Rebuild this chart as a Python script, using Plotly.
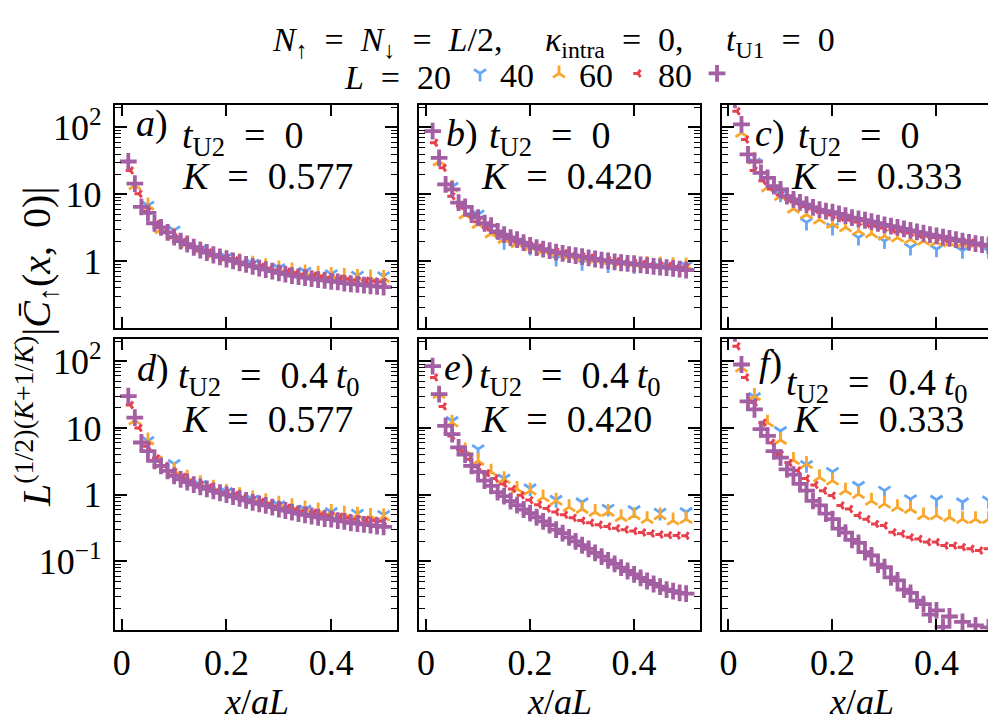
import plotly.graph_objects as go
from plotly.subplots import make_subplots

# ---------------- data ----------------
x20 = [0.05, 0.10, 0.15, 0.20, 0.25, 0.30, 0.35, 0.40, 0.45, 0.50]
x40 = [0.025, 0.05, 0.075, 0.10, 0.125, 0.15, 0.175, 0.20, 0.225, 0.25,
       0.275, 0.30, 0.325, 0.35, 0.375, 0.40, 0.425, 0.45, 0.475, 0.50]
x60 = [0.0167, 0.0333, 0.05, 0.0667, 0.0833, 0.10, 0.1167, 0.1333, 0.15, 0.1667,
       0.1833, 0.20, 0.2167, 0.2333, 0.25, 0.2667, 0.2833, 0.30, 0.3167, 0.3333,
       0.35, 0.3667, 0.3833, 0.40, 0.4167, 0.4333, 0.45, 0.4667, 0.4833, 0.50]
x80 = [0.0125, 0.025, 0.0375, 0.05, 0.0625, 0.075, 0.0875, 0.10, 0.1125, 0.125,
       0.1375, 0.15, 0.1625, 0.175, 0.1875, 0.20, 0.2125, 0.225, 0.2375, 0.25,
       0.2625, 0.275, 0.2875, 0.30, 0.3125, 0.325, 0.3375, 0.35, 0.3625, 0.375,
       0.3875, 0.40, 0.4125, 0.425, 0.4375, 0.45, 0.4625, 0.475, 0.4875, 0.50]

# panel a) t_U2 = 0, K = 0.577
a_L20 = [6.8, 2.9, 1.5, 1.15, 0.92, 0.79, 0.70, 0.64, 0.61, 0.60]
a_L40 = [13.6, 6.8, 3.0, 2.4, 1.85, 1.5, 1.28, 1.13, 1.0, 0.92,
         0.84, 0.78, 0.73, 0.68, 0.65, 0.62, 0.60, 0.58, 0.57, 0.56]
a_L60 = [22.8, 10.2, 5.6, 3.6, 2.8, 2.3, 1.95, 1.7, 1.5, 1.36,
         1.23, 1.12, 1.03, 0.96, 0.89, 0.83, 0.78, 0.74, 0.70, 0.67,
         0.64, 0.61, 0.59, 0.57, 0.55, 0.54, 0.52, 0.51, 0.50, 0.49]
a_L80 = [31, 14.5, 6.5, 5.3, 3.7, 3.2, 2.7, 2.3, 2.0, 1.8,
         1.62, 1.47, 1.35, 1.24, 1.16, 1.08, 1.01, 0.95, 0.90, 0.84,
         0.79, 0.75, 0.71, 0.67, 0.64, 0.61, 0.59, 0.57, 0.55, 0.53,
         0.52, 0.50, 0.49, 0.47, 0.46, 0.45, 0.44, 0.43, 0.42, 0.41]

# panel b) t_U2 = 0, K = 0.420
b_L20 = [13, 5.0, 1.95, 1.6, 1.1, 0.95, 0.88, 0.85, 0.82, 0.85]
b_L40 = [31, 12.6, 5.0, 3.6, 2.6, 2.15, 1.85, 1.65, 1.45, 1.33,
         1.22, 1.14, 1.07, 1.02, 0.97, 0.94, 0.91, 0.89, 0.87, 0.86]
b_L60 = [59, 25, 9.4, 6.7, 4.9, 3.9, 3.2, 2.7, 2.35, 2.1,
         1.9, 1.73, 1.6, 1.49, 1.40, 1.32, 1.25, 1.19, 1.13, 1.08,
         1.04, 1.0, 0.97, 0.94, 0.91, 0.89, 0.87, 0.85, 0.83, 0.82]
b_L80 = [88, 35, 14.1, 11.9, 7.5, 6.5, 5.0, 4.5, 3.7, 3.4,
         2.8, 2.5, 2.26, 2.1, 1.9, 1.72, 1.6, 1.52, 1.44, 1.37,
         1.31, 1.26, 1.21, 1.17, 1.12, 1.08, 1.04, 1.01, 0.98, 0.95,
         0.93, 0.91, 0.88, 0.86, 0.84, 0.82, 0.80, 0.78, 0.76, 0.74]

# panel c) t_U2 = 0, K = 0.333
c_L20 = [30, 10, 3.8, 3.2, 2.26, 2.0, 1.6, 1.51, 1.43, 1.43]
c_L40 = [83, 33, 12.6, 9.4, 6.1, 5.0, 4.2, 3.6, 3.2, 2.85,
         2.6, 2.4, 2.25, 2.12, 2.02, 1.95, 1.9, 1.86, 1.83, 1.82]
c_L60 = [175, 66, 22.8, 16, 12, 9.8, 8.4, 7.3, 6.5, 5.9,
         5.4, 4.9, 4.5, 4.15, 3.85, 3.6, 3.35, 3.15, 2.95, 2.8,
         2.65, 2.5, 2.38, 2.27, 2.15, 2.05, 1.97, 1.9, 1.83, 1.78]
c_L80 = [260, 111, 39.5, 31, 21, 17.7, 13.3, 11.9, 9.4, 8.4,
         7.6, 7.0, 6.4, 5.9, 5.6, 5.4, 5.1, 4.8, 4.5, 4.3,
         4.1, 3.9, 3.7, 3.5, 3.35, 3.2, 3.05, 2.9, 2.75, 2.62,
         2.5, 2.4, 2.3, 2.2, 2.1, 2.0, 1.92, 1.84, 1.77, 1.7]

# panel d) t_U2 = 0.4 t0, K = 0.577
d_L20 = [6.4, 2.9, 1.4, 1.1, 0.85, 0.70, 0.60, 0.55, 0.52, 0.50]
d_L40 = [13, 6.5, 2.9, 2.3, 1.8, 1.48, 1.27, 1.1, 0.98, 0.88,
         0.80, 0.73, 0.67, 0.62, 0.58, 0.55, 0.52, 0.50, 0.48, 0.47]
d_L60 = [22, 10, 5.3, 3.5, 2.7, 2.2, 1.85, 1.6, 1.42, 1.28,
         1.16, 1.06, 0.98, 0.91, 0.84, 0.78, 0.73, 0.68, 0.64, 0.60,
         0.57, 0.54, 0.51, 0.49, 0.47, 0.45, 0.43, 0.42, 0.41, 0.40]
d_L80 = [30, 14.3, 6.05, 4.5, 3.2, 2.7, 2.28, 1.92, 1.7, 1.55,
         1.42, 1.31, 1.22, 1.14, 1.07, 1.0, 0.94, 0.88, 0.82, 0.77,
         0.73, 0.69, 0.65, 0.61, 0.58, 0.55, 0.52, 0.50, 0.48, 0.46,
         0.44, 0.43, 0.41, 0.40, 0.38, 0.37, 0.36, 0.35, 0.34, 0.33]

# panel e) t_U2 = 0.4 t0, K = 0.420
e_L20 = [12.7, 4.8, 1.75, 1.25, 0.84, 0.77, 0.62, 0.59, 0.54, 0.55]
e_L40 = [32, 12, 4.6, 3.2, 2.2, 1.71, 1.22, 1.15, 0.91, 0.81,
         0.65, 0.61, 0.55, 0.55, 0.46, 0.49, 0.43, 0.49, 0.41, 0.43]
e_L60 = [57, 21, 7.6, 4.8, 3.4, 2.6, 2.1, 1.75, 1.45, 1.22,
         0.98, 0.83, 0.71, 0.62, 0.55, 0.50, 0.45, 0.41, 0.38, 0.355,
         0.335, 0.315, 0.30, 0.285, 0.272, 0.262, 0.254, 0.248, 0.245, 0.243]
e_L80 = [84, 32, 10.7, 8.1, 5.1, 4.0, 2.7, 2.2, 1.62, 1.36,
         1.09, 0.95, 0.80, 0.70, 0.60, 0.53, 0.46, 0.40, 0.35, 0.30,
         0.265, 0.23, 0.20, 0.175, 0.155, 0.135, 0.118, 0.104, 0.092, 0.081,
         0.072, 0.064, 0.057, 0.051, 0.046, 0.042, 0.038, 0.036, 0.034, 0.033]

# panel f) t_U2 = 0.4 t0, K = 0.333
f_L20 = [29, 9.0, 2.8, 2.2, 1.36, 1.15, 0.86, 0.84, 0.77, 0.82]
f_L40 = [80, 30, 12, 6.6, 3.3, 2.87, 1.82, 1.62, 1.15, 1.02,
         0.81, 0.73, 0.65, 0.61, 0.49, 0.49, 0.46, 0.43, 0.43, 0.43]
f_L60 = [167, 57, 24, 12, 6.0, 4.0, 3.0, 2.3, 1.75, 1.4,
         1.15, 0.97, 0.69, 0.61, 0.49, 0.43, 0.365, 0.345, 0.274, 0.26,
         0.23, 0.218, 0.195, 0.195, 0.173, 0.173, 0.164, 0.155, 0.146, 0.155]
f_L80 = [260, 89, 25, 19, 9.6, 7.6, 4.5, 3.6, 2.4, 2.0,
         1.45, 1.15, 0.81, 0.69, 0.52, 0.43, 0.31, 0.27, 0.21, 0.19,
         0.138, 0.123, 0.09, 0.082, 0.058, 0.052, 0.038, 0.034, 0.026, 0.023,
         0.016, 0.0185, 0.0105, 0.015, 0.007, 0.0125, 0.006, 0.011, 0.005, 0.0103]

panels = [
    (a_L20, a_L40, a_L60, a_L80),
    (b_L20, b_L40, b_L60, b_L80),
    (c_L20, c_L40, c_L60, c_L80),
    (d_L20, d_L40, d_L60, d_L80),
    (e_L20, e_L40, e_L60, e_L80),
    (f_L20, f_L40, f_L60, f_L80),
]
sizes_L = ["20", "40", "60", "80"]
xs = [x20, x40, x60, x80]
colors = ["#62A6F7", "#F9A62C", "#E8404C", "#A45EA3"]
symbols = ["y-down", "y-up", "y-left", "cross-thin"]
msize = [10, 10, 6, 12]
mline = [2.8, 2.8, 3.0, 3.8]
# legend reads "L = 20 [sym] 40 [sym] 60 [sym] 80 [sym]"
legend_names = ["40", "60", "80", " "]

panel_letters = ["a", "b", "c", "d", "e", "f"]
tU2_text = ["0", "0", "0", "0.4\u2009<i>t</i><sub>0</sub>", "0.4\u2009<i>t</i><sub>0</sub>",
            "0.4\u2009<i>t</i><sub>0</sub>"]
K_text = ["0.577", "0.420", "0.333", "0.577", "0.420", "0.333"]

W, H = 996, 723
FONT = "Liberation Serif"
EQ = "\u2002=\u2002"
EQS = "\u2004=\u2004"

fig = make_subplots(rows=2, cols=3)

for p, series in enumerate(panels):
    row = p // 3 + 1
    col = p % 3 + 1
    for s in range(4):
        fig.add_trace(go.Scatter(
            x=xs[s], y=series[s], mode="markers",
            name=legend_names[s], showlegend=(p == 0),
            marker=dict(symbol=symbols[s], size=msize[s], color=colors[s],
                        line=dict(color=colors[s], width=mline[s])),
            hovertemplate="L=" + sizes_L[s] + "<br>x/aL=%{x}<br>%{y}<extra></extra>",
            cliponaxis=True,
        ), row=row, col=col)

# domains in pixels
xdom_px = [(105, 388), (410, 691), (713, 994)]
ydom_px = [(95, 319), (330, 622)]


def px_x(v):
    return v / W


def px_y(v):
    return 1 - v / H


minor_vals = []
for dec in [0.001, 0.01, 0.1, 1, 10, 100]:
    for m in range(2, 10):
        minor_vals.append(round(m * dec, 6))

for p in range(6):
    r = p // 3
    c = p % 3
    xa = "xaxis" if p == 0 else f"xaxis{p+1}"
    ya = "yaxis" if p == 0 else f"yaxis{p+1}"
    x0, x1 = xdom_px[c]
    y0, y1 = ydom_px[r]
    fig.layout[xa].update(
        domain=[px_x(x0), px_x(x1)], range=[-0.0133, 0.526],
        tickmode="array", tickvals=[0, 0.2, 0.4], ticktext=["0", "0.2", "0.4"],
        showticklabels=(r == 1), ticks="inside", ticklen=11, tickwidth=1.5,
        tickcolor="black", mirror="allticks", showline=True, linewidth=2,
        linecolor="black", showgrid=False, zeroline=False,
        ticklabelstandoff=0,
        tickfont=dict(family=FONT, size=36, color="black"),
    )
    if r == 0:
        yr = [-1.0, 2.34]
        tv = [1, 10, 100]
        tt = ["1", "10", "10<sup>2</sup>"]
    else:
        yr = [-2.03, 2.33]
        tv = [0.1, 1, 10, 100]
        tt = ["10<sup>\u22121</sup>", "1", "10", "10<sup>2</sup>"]
    fig.layout[ya].update(
        domain=[px_y(y1), px_y(y0)], type="log", range=yr,
        tickmode="array", tickvals=tv, ticktext=tt,
        showticklabels=(c == 0), ticks="inside", ticklen=12, tickwidth=1.5,
        tickcolor="black", mirror="allticks", showline=True, linewidth=2,
        linecolor="black", showgrid=False, zeroline=False,
        ticklabelstandoff=4,
        tickfont=dict(family=FONT, size=36, color="black"),
        minor=dict(tickmode="array", tickvals=minor_vals, ticks="inside",
                   ticklen=6, tickwidth=1, tickcolor="black", showgrid=False),
    )

annotations = []
# panel texts
lab_pos = [(142, 114), (453, 124), (762, 124), (143, 359), (450, 358), (762, 354)]
t_pos = [(170, 128), (478, 128), (788, 128), (166, 369), (468, 369), (776, 376)]
k_pos = [(170, 166), (470, 166), (781, 166), (170, 410), (470, 410), (783, 410)]
for p in range(6):
    annotations.append(dict(
        text="<i>" + panel_letters[p] + "</i>)", x=px_x(lab_pos[p][0]), y=px_y(lab_pos[p][1]),
        xref="paper", yref="paper", xanchor="center", yanchor="middle",
        showarrow=False, font=dict(family=FONT, size=38, color="black")))
    annotations.append(dict(
        text="<i>t</i><sub>U2</sub>" + EQ + tU2_text[p], x=px_x(t_pos[p][0]), y=px_y(t_pos[p][1]),
        xref="paper", yref="paper", xanchor="left", yanchor="middle",
        showarrow=False, font=dict(family=FONT, size=38, color="black")))
    annotations.append(dict(
        text="<i>K</i>" + EQ + K_text[p], x=px_x(k_pos[p][0]), y=px_y(k_pos[p][1]),
        xref="paper", yref="paper", xanchor="left", yanchor="middle",
        showarrow=False, font=dict(family=FONT, size=38, color="black")))

# x-axis titles
for c in range(3):
    x0, x1 = xdom_px[c]
    annotations.append(dict(
        text="<i>x</i>/<i>aL</i>", x=px_x((x0 + x1) / 2), y=px_y(694),
        xref="paper", yref="paper", xanchor="center", yanchor="middle",
        showarrow=False, font=dict(family=FONT, size=36, color="black")))

# y-axis title
annotations.append(dict(
    text="<i>L</i><sup>(1/2)(<i>K</i>+1/<i>K</i>)</sup>|<i>C\u0304</i><sub>\u2191</sub>(<i>x</i>,\u2009 0)|",
    x=px_x(26), y=px_y(338), xref="paper", yref="paper",
    xanchor="center", yanchor="middle", textangle=-90,
    showarrow=False, font=dict(family=FONT, size=40, color="black")))

# top title line
annotations.append(dict(
    text="<i>N</i><sub>\u2191</sub>" + EQ + "<i>N</i><sub>\u2193</sub>" + EQ + "<i>L</i>/2,\u2003 "
         "<i>\u03ba</i><sub>intra</sub>" + EQ + "0,\u2003 <i>t</i><sub>U1</sub>" + EQ + "0",
    x=px_x(545), y=px_y(32), xref="paper", yref="paper",
    xanchor="center", yanchor="middle",
    showarrow=False, font=dict(family=FONT, size=34, color="black")))

fig.update_layout(
    width=W, height=H,
    margin=dict(l=0, r=0, t=0, b=0),
    paper_bgcolor="white", plot_bgcolor="white",
    annotations=annotations,
    showlegend=True,
    legend=dict(
        orientation="h", x=px_x(538), y=px_y(64), xanchor="center", yanchor="middle",
        title=dict(text="<i>L</i>" + EQ + "20", side="left",
                   font=dict(family=FONT, size=34, color="black")),
        font=dict(family=FONT, size=34, color="black"),
        bgcolor="rgba(0,0,0,0)", itemwidth=30, tracegroupgap=0,
    ),
)

fig.write_html("out.html")
